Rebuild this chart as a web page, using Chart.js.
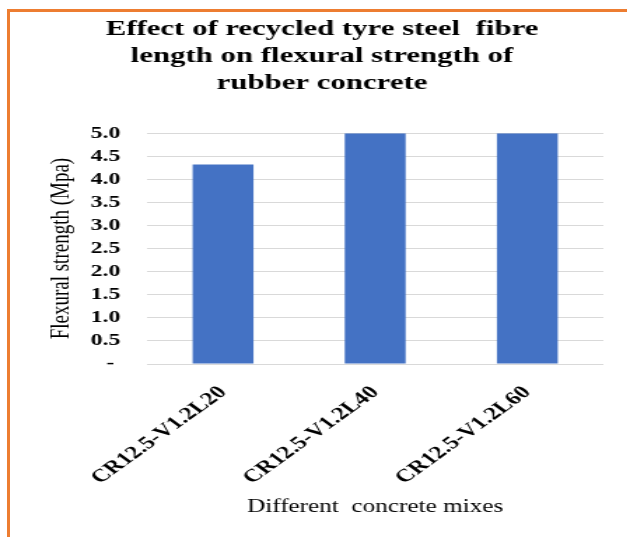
<!DOCTYPE html>
<html>
<head>
<meta charset="utf-8">
<script src="https://cdn.jsdelivr.net/npm/chart.js@4"></script>
<style>
  html, body { margin: 0; padding: 0; background: #fff; }
  #wrap { position: relative; width: 627px; height: 537px; overflow: hidden; }
  #frame {
    position: absolute; left: 7px; top: 9px; right: -10px; bottom: -10px;
    border-left: 3px solid #ED7D31; border-top: 3px solid #ED7D31;
  }
  /* the chart is laid out narrow and stretched sideways, like the pasted original */
  #stretch {
    position: absolute; left: 0; top: 0; width: 448px; height: 537px;
    transform: scaleX(1.4); transform-origin: 0 0;
  }
</style>
</head>
<body>
<div id="wrap">
  <div id="frame"></div>
  <div id="stretch"><canvas id="chart1" width="448" height="537"></canvas></div>
</div>
<script>
const mixes = ['CR12.5-V1.2L20', 'CR12.5-V1.2L40', 'CR12.5-V1.2L60'];
const flexuralStrength = [4.32, 5.0, 5.0];
const titleLines = ['Effect of recycled tyre steel  fibre', 'length on flexural strength of', 'rubber concrete'];
const yMax = 5.0;
const yStep = 0.5;

const serif = "'Liberation Serif', 'Times New Roman', serif";

let chart1 = null;

function drawChart() {
  if (chart1) chart1.destroy();
  chart1 = new Chart(document.getElementById('chart1'), {
    type: 'bar',
    data: {
      labels: mixes,
      datasets: [{
        label: 'Flexural strength',
        data: flexuralStrength,
        backgroundColor: '#4472C4',
        borderWidth: 0,
        categoryPercentage: 1.0,
        barPercentage: 0.4
      }]
    },
    options: {
      responsive: false,
      animation: false,
      devicePixelRatio: 1,
      layout: { padding: { left: 29, right: 17, top: 16, bottom: 15 } },
      plugins: {
        legend: { display: false },
        tooltip: { enabled: false },
        title: {
          display: true,
          text: titleLines,
          color: '#000',
          font: { family: serif, size: 22, weight: 'bold', lineHeight: 1.23 },
          padding: { top: 0, bottom: 36 }
        }
      },
      scales: {
        x: {
          grid: { display: false },
          border: { display: false },
          ticks: {
            color: '#000',
            font: { family: serif, size: 18, weight: 'bold' },
            maxRotation: 45,
            minRotation: 45,
            padding: 10
          },
          title: {
            display: true,
            text: 'Different  concrete mixes',
            color: '#000',
            font: { family: serif, size: 18 },
            padding: { top: 4, bottom: 4 }
          },
          afterFit(scale) { scale.height = 158; }
        },
        y: {
          min: 0,
          max: yMax,
          grid: { color: '#D9D9D9', lineWidth: 1, drawTicks: false },
          border: { display: false },
          ticks: {
            stepSize: yStep,
            autoSkip: false,
            color: '#000',
            font: { family: serif, size: 17, weight: 'bold', lineHeight: 1 },
            padding: 19,
            callback: v => (v === 0 ? '- ' : Number(v).toFixed(1))
          },
          title: {
            display: true,
            text: 'Flexural strength (Mpa)',
            color: '#000',
            font: { family: serif, size: 19 },
            padding: { top: 4, bottom: 4 }
          },
          afterFit(scale) { scale.width = 76; }
        }
      }
    }
  });
}

document.addEventListener('DOMContentLoaded', drawChart);
</script>
</body>
</html>
